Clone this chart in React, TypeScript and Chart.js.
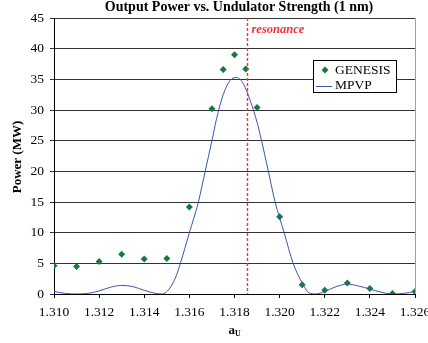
import React, { useEffect, useRef } from "react";
import { Chart, registerables } from "chart.js";

Chart.register(...registerables);

const genesisX = [1.310, 1.311, 1.312, 1.313, 1.314, 1.315, 1.316, 1.317, 1.3175, 1.318, 1.3185, 1.319, 1.320, 1.321, 1.322, 1.323, 1.324, 1.325, 1.326];
const genesisY = [4.6, 4.5, 5.3, 6.5, 5.7, 5.8, 14.2, 30.2, 36.6, 39.0, 36.7, 30.4, 12.6, 1.5, 0.6, 1.8, 0.9, 0.1, 0.4];

const mpvpX = [1.3100, 1.3105, 1.3110, 1.3115, 1.3120, 1.3125, 1.3130, 1.3135, 1.3140, 1.3145, 1.3148, 1.3151, 1.3154, 1.3156, 1.3160, 1.3164, 1.3167, 1.3170, 1.3172, 1.3175, 1.3178, 1.3181, 1.3184, 1.3187, 1.3190, 1.3192, 1.3195, 1.3198, 1.3202, 1.3206, 1.3210, 1.3213, 1.3216, 1.3220, 1.3225, 1.3230, 1.3235, 1.3240, 1.3245, 1.3250, 1.3255, 1.3260];
const mpvpY = [0.4, 0.1, 0.0, 0.1, 0.5, 1.1, 1.4, 1.2, 0.6, 0.1, 0.0, 0.8, 2.8, 5.0, 10.0, 15.0, 20.0, 25.0, 28.5, 32.5, 34.8, 35.3, 34.2, 31.5, 28.0, 25.0, 20.0, 15.0, 10.0, 5.0, 1.8, 0.2, 0.0, 0.4, 1.2, 1.6, 1.3, 0.8, 0.3, 0.0, 0.1, 0.4];

const resonanceX = 1.31855;
const xMin = 1.310, xMax = 1.326, xStep = 0.002;
const yMin = 0, yMax = 45, yStep = 5;

const titleText = "Output Power vs. Undulator Strength (1 nm)";
const yTitle = "Power (MW)";
const legendLabels = ["GENESIS", "MPVP"];

const green = "#157a3a";
const blue = "#3a55b0";
const red = "#f03535";

const overlay = {
  id: "overlay",
  afterDraw(chart: any) {
    const ctx = chart.ctx;
    const a = chart.chartArea;
    const xs = chart.scales.x;
    ctx.save();
    // right border
    ctx.strokeStyle = "#a0a0a0";
    ctx.lineWidth = 1;
    ctx.beginPath();
    ctx.moveTo(Math.round(a.right) + 0.5, a.top);
    ctx.lineTo(Math.round(a.right) + 0.5, a.bottom);
    ctx.stroke();
    // resonance line
    const rx = Math.round(xs.getPixelForValue(resonanceX)) + 0.5;
    ctx.strokeStyle = red;
    ctx.lineWidth = 1.4;
    ctx.setLineDash([3, 2]);
    ctx.beginPath();
    ctx.moveTo(rx, a.top);
    ctx.lineTo(rx, a.bottom);
    ctx.stroke();
    ctx.setLineDash([]);
    ctx.lineWidth = 1;
    ctx.fillStyle = red;
    ctx.font = "italic bold 12.5px 'Liberation Serif'";
    ctx.textAlign = "left";
    ctx.textBaseline = "middle";
    ctx.fillText("resonance", rx + 4, 30);
    // title
    ctx.fillStyle = "#000";
    ctx.font = "bold 14px 'Liberation Serif'";
    ctx.textAlign = "center";
    ctx.fillText(titleText, 239, 7);
    // y title
    ctx.save();
    ctx.translate(18, 157);
    ctx.rotate(-Math.PI / 2);
    ctx.font = "bold 13px 'Liberation Serif'";
    ctx.fillText(yTitle, 0, 0);
    ctx.restore();
    // x title a_U
    ctx.font = "bold 13px 'Liberation Serif'";
    ctx.textAlign = "left";
    ctx.fillText("a", 228.5, 331);
    ctx.font = "bold 8px 'Liberation Serif'";
    ctx.fillText("U", 235, 334);
    // legend
    const lx = 313, ly = 60, lw = 83, lh = 32;
    ctx.fillStyle = "#fff";
    ctx.fillRect(lx, ly, lw, lh);
    ctx.strokeStyle = "#000";
    ctx.lineWidth = 1;
    ctx.strokeRect(lx + 0.5, ly + 0.5, lw, lh);
    // genesis marker
    ctx.fillStyle = green;
    ctx.beginPath();
    const mx = 325, my = 70, r = 3.5;
    ctx.moveTo(mx, my - r);
    ctx.lineTo(mx + r, my);
    ctx.lineTo(mx, my + r);
    ctx.lineTo(mx - r, my);
    ctx.closePath();
    ctx.fill();
    ctx.strokeStyle = blue;
    ctx.beginPath();
    ctx.moveTo(316, 86.5);
    ctx.lineTo(332, 86.5);
    ctx.stroke();
    ctx.fillStyle = "#000";
    ctx.font = "13.5px 'Liberation Serif'";
    ctx.textBaseline = "middle";
    ctx.fillText(legendLabels[0], 335, 70);
    ctx.fillText(legendLabels[1], 335, 85);
    ctx.restore();
  },
};

export default function App() {
  const ref = useRef<HTMLCanvasElement>(null);
  useEffect(() => {
    const chart = new Chart(ref.current!, {
      type: "scatter",
      data: {
        datasets: [
          {
            label: legendLabels[1],
            type: "line",
            data: mpvpX.map((x, i) => ({ x, y: mpvpY[i] })),
            borderColor: blue,
            borderWidth: 1,
            pointRadius: 0,
            cubicInterpolationMode: "monotone",
            fill: false,
          } as any,
          {
            label: legendLabels[0],
            data: genesisX.map((x, i) => ({ x, y: genesisY[i] })),
            backgroundColor: green,
            borderColor: green,
            pointStyle: "rectRot",
            pointRadius: 3.5,
            borderWidth: 0,
          },
        ],
      },
      options: {
        responsive: false,
        animation: false,
        devicePixelRatio: 1,
        layout: { padding: { top: 18, right: 35, left: 0, bottom: 0 } },
        plugins: { legend: { display: false }, title: { display: false }, tooltip: { enabled: false } },
        scales: {
          x: {
            type: "linear",
            min: xMin,
            max: xMax,
            ticks: {
              stepSize: xStep,
              color: "#000",
              font: { family: "'Liberation Serif'", size: 13.5 },
              callback: (v: any) => Number(v).toFixed(3),
              maxRotation: 0,
              padding: 6,
            },
            grid: { drawOnChartArea: false, drawTicks: true, tickLength: 4, color: "#000" },
            border: { display: true, color: "#000", width: 1 },
            afterFit: (s: any) => { s.height = 49; },
          },
          y: {
            min: yMin,
            max: yMax,
            ticks: {
              stepSize: yStep,
              color: "#000",
              font: { family: "'Liberation Serif'", size: 13.5 },
              padding: 6,
            },
            grid: { color: "#333", tickLength: 4, drawTicks: true },
            border: { display: true, color: "#000", width: 1 },
            afterFit: (s: any) => { s.width = 54; },
          },
        },
      },
      plugins: [overlay],
    });
    return () => chart.destroy();
  }, []);
  return (
    <div style={{ position: "absolute", left: 0, top: 0, width: 428, height: 343, overflow: "hidden", background: "#fff" }}>
      <canvas ref={ref} width={450} height={343} />
    </div>
  );
}
